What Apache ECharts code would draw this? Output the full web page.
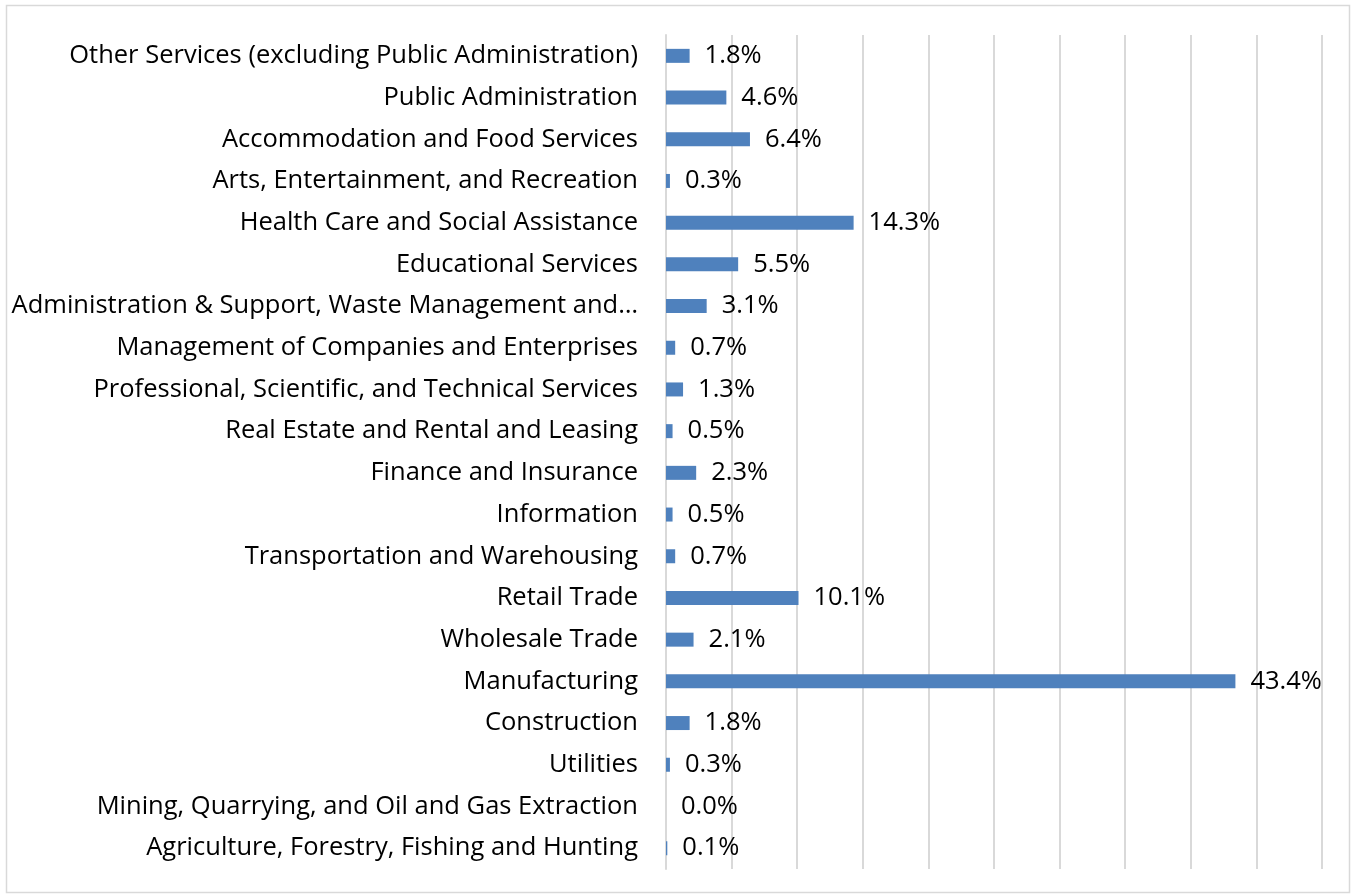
<!DOCTYPE html>
<html>
<head>
<meta charset="utf-8">
<script src="https://cdn.jsdelivr.net/npm/echarts@6/dist/echarts.min.js"></script>
<style>
  html, body { margin: 0; padding: 0; background: #fff; }
  #chart { width: 1354px; height: 894px; }
</style>
</head>
<body>
<div id="chart"></div>
<script>
// categories listed bottom to top
const industries = [
  "Agriculture, Forestry, Fishing and Hunting",
  "Mining, Quarrying, and Oil and Gas Extraction",
  "Utilities",
  "Construction",
  "Manufacturing",
  "Wholesale Trade",
  "Retail Trade",
  "Transportation and Warehousing",
  "Information",
  "Finance and Insurance",
  "Real Estate and Rental and Leasing",
  "Professional, Scientific, and Technical Services",
  "Management of Companies and Enterprises",
  "Administration & Support, Waste Management and…",
  "Educational Services",
  "Health Care and Social Assistance",
  "Arts, Entertainment, and Recreation",
  "Accommodation and Food Services",
  "Public Administration",
  "Other Services (excluding Public Administration)"
];
const shares = [0.1, 0.0, 0.3, 1.8, 43.4, 2.1, 10.1, 0.7, 0.5, 2.3, 0.5, 1.3, 0.7, 3.1, 5.5, 14.3, 0.3, 6.4, 4.6, 1.8];

const chart = echarts.init(document.getElementById("chart"));
const font = "'Open Sans', sans-serif";

chart.setOption({
  animation: false,
  textStyle: { fontFamily: font },
  graphic: [{
    type: "rect",
    shape: { x: 6.5, y: 5.5, width: 1343, height: 887 },
    style: { fill: "none", stroke: "#d9d9d9", lineWidth: 1.5 },
    silent: true
  }],
  grid: { left: 666, right: 32, top: 35, bottom: 25, containLabel: false },
  xAxis: {
    type: "value",
    min: 0,
    max: 50,
    interval: 5,
    axisLabel: { show: false },
    axisLine: { show: false },
    axisTick: { show: false },
    splitLine: { show: true, lineStyle: { color: "#d9d9d9", width: 2 } }
  },
  yAxis: {
    type: "category",
    data: industries,
    axisTick: { show: false },
    axisLine: { show: true, lineStyle: { color: "#d9d9d9", width: 2 } },
    axisLabel: { color: "#000", fontSize: 25.5, fontFamily: font, margin: 28, padding: [4, 0, 0, 0] }
  },
  series: [{
    type: "bar",
    data: shares,
    barWidth: 14,
    itemStyle: { color: "#4f81bd" },
    label: {
      show: true,
      position: "right",
      distance: 15,
      color: "#000",
      fontSize: 25.5,
      fontFamily: font,
      padding: [4, 0, 0, 0],
      formatter: (p) => p.value.toFixed(1) + "%"
    }
  }]
});

window.addEventListener("resize", () => chart.resize());
</script>
</body>
</html>
